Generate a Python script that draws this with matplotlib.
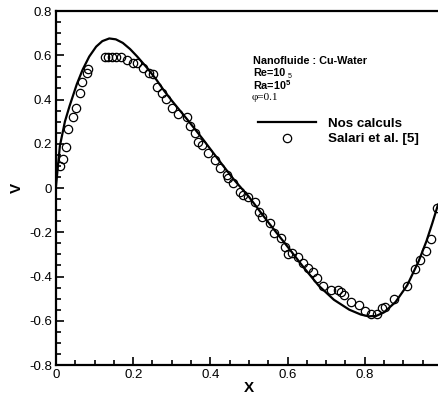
import matplotlib
matplotlib.use("Agg")
import matplotlib.pyplot as plt
from matplotlib.ticker import MultipleLocator

# our computation (solid line)
calc_x = [0.0, 0.01, 0.023, 0.035, 0.054, 0.069, 0.086, 0.104, 0.12, 0.138, 0.155,
          0.173, 0.192, 0.21, 0.235, 0.26, 0.28, 0.30, 0.34, 0.38, 0.42, 0.46, 0.50,
          0.55, 0.60, 0.64, 0.68, 0.72, 0.76, 0.79, 0.81, 0.83, 0.85, 0.88, 0.91,
          0.94, 0.96, 0.975, 0.99]
calc_v = [0.01, 0.19, 0.30, 0.37, 0.47, 0.535, 0.594, 0.639, 0.664, 0.676, 0.672,
          0.656, 0.628, 0.595, 0.545, 0.49, 0.44, 0.395, 0.31, 0.222, 0.13, 0.04, -0.04,
          -0.155, -0.265, -0.355, -0.44, -0.505, -0.55, -0.572, -0.58, -0.578, -0.562,
          -0.515, -0.44, -0.33, -0.24, -0.16, -0.075]

# Salari et al. [5] (circles)
salari_x = [0.010, 0.019, 0.025, 0.032, 0.045, 0.053, 0.061, 0.067, 0.080, 0.082,
            0.127, 0.135, 0.145, 0.155, 0.168, 0.183, 0.199, 0.211, 0.226, 0.241,
            0.251, 0.262, 0.274, 0.284, 0.300, 0.317, 0.339, 0.347, 0.360, 0.369,
            0.379, 0.395, 0.412, 0.425, 0.442, 0.446, 0.459, 0.477, 0.485, 0.498,
            0.516, 0.527, 0.533, 0.554, 0.566, 0.582, 0.593, 0.602, 0.611, 0.628,
            0.641, 0.654, 0.667, 0.677, 0.692, 0.713, 0.731, 0.738, 0.746, 0.765,
            0.784, 0.800, 0.815, 0.832, 0.845, 0.853, 0.877, 0.910, 0.931, 0.944,
            0.959, 0.972, 0.987]
salari_v = [0.10, 0.13, 0.185, 0.267, 0.32, 0.36, 0.43, 0.48, 0.52, 0.54,
            0.592, 0.592, 0.592, 0.592, 0.592, 0.578, 0.565, 0.565, 0.542, 0.52,
            0.515, 0.456, 0.429, 0.402, 0.362, 0.334, 0.321, 0.280, 0.249, 0.208,
            0.194, 0.158, 0.127, 0.090, 0.059, 0.045, 0.023, -0.018, -0.032, -0.041,
            -0.062, -0.107, -0.130, -0.160, -0.202, -0.227, -0.265, -0.298, -0.295, -0.311,
            -0.338, -0.363, -0.378, -0.405, -0.443, -0.460, -0.460, -0.471, -0.482, -0.515,
            -0.530, -0.555, -0.570, -0.570, -0.542, -0.539, -0.500, -0.444, -0.365, -0.324,
            -0.283, -0.231, -0.090]

plt.rcParams['font.family'] = ['Liberation Sans', 'DejaVu Sans']

fig = plt.figure(figsize=(4.38, 3.98), dpi=100)
ax = fig.add_axes([0.1279, 0.0829, 0.881, 0.8894])

ax.plot(calc_x, calc_v, color='black', lw=1.6, label='Nos calculs')
ax.plot(salari_x, salari_v, ls='none', marker='o', ms=6, mfc='none', mec='black',
        mew=0.9, label='Salari et al. [5]')

ax.set_xlim(0, 1)
ax.set_ylim(-0.8, 0.8)
ax.xaxis.set_minor_locator(MultipleLocator(0.05))
ax.yaxis.set_minor_locator(MultipleLocator(0.05))
ax.set_xticks([0, 0.2, 0.4, 0.6, 0.8])
ax.set_xticklabels(['0', '0.2', '0.4', '0.6', '0.8'])
ax.set_yticks([-0.8, -0.6, -0.4, -0.2, 0, 0.2, 0.4, 0.6, 0.8])
ax.set_yticklabels(['-0.8', '-0.6', '-0.4', '-0.2', '0', '0.2', '0.4', '0.6', '0.8'])
ax.tick_params(which='both', direction='in', top=False, right=False, labelsize=9.5, width=1.2)
ax.tick_params(which='major', length=6, pad=3)
ax.tick_params(which='minor', length=3.5)
for s in ax.spines.values():
    s.set_linewidth(1.6)
ax.spines['right'].set_visible(False)

ax.set_xlabel('X', fontsize=11, fontweight='bold', labelpad=0)
ax.set_ylabel('V', fontsize=11, fontweight='bold', labelpad=4)

# annotation block
tx = (253 - 56) / 386
def yv(py):
    return 0.8 - (py - 11) / 221.25
ax.text(tx, yv(61), 'Nanofluide : Cu-Water', fontsize=7.8, fontweight='bold', va='center')
ax.text(tx, yv(73), 'Re=10', fontsize=7.8, fontweight='bold', va='center')
ax.text(tx + 0.091, yv(76), '5', fontsize=5, va='center')
ax.text(tx, yv(85), 'Ra=10$^{\\mathregular{5}}$', fontsize=7.8, fontweight='bold', va='center')
ax.text(tx - 0.004, yv(97), 'φ=0.1', fontsize=8, family='Liberation Serif', va='center')

leg = ax.legend(loc='upper left', bbox_to_anchor=((253 - 56) / 386, 1 - (112 - 11) / 354),
                frameon=False, handlelength=4.3, handletextpad=0.9, labelspacing=0.25,
                prop={'weight': 'bold', 'size': 9.6}, borderaxespad=0)

fig.savefig('out.png', dpi=100)
